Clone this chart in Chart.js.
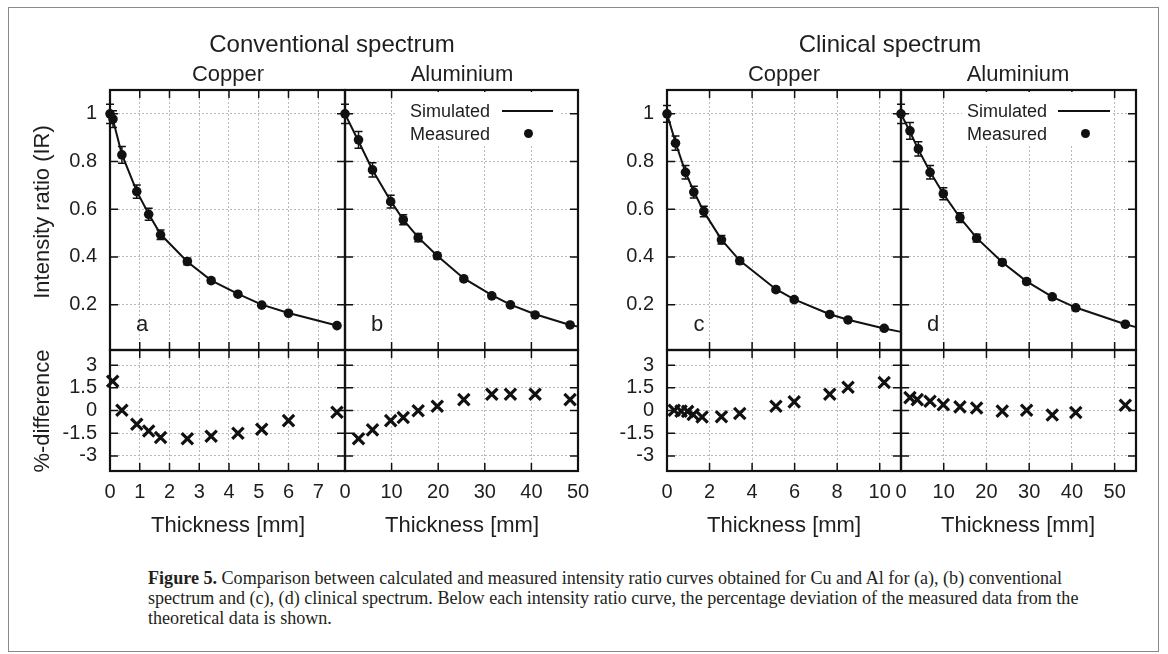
<!DOCTYPE html>
<html><head><meta charset="utf-8">
<script src="https://cdn.jsdelivr.net/npm/chart.js@4.4.1/dist/chart.umd.min.js"></script>
<style>
body{margin:0;width:1168px;height:654px;position:relative;background:#fff;overflow:hidden;font-family:"Liberation Sans",Arial,sans-serif;color:#1e1e1e}
#frame{position:absolute;left:8px;top:7px;width:1151px;height:645px;border:1px solid #8a8a8a;box-sizing:border-box}
.t{position:absolute;white-space:nowrap;line-height:1}
canvas{position:absolute}
.cap{position:absolute;left:148px;white-space:nowrap;font-family:"Liberation Serif","Times New Roman",serif;font-size:18.1px;line-height:1;color:#231f20}
.leg{position:absolute;background:#fff}
</style></head>
<body>
<div id="frame"></div>
<script>
// ---------------- data ----------------
// Conventional spectrum, copper
const cuConvX    = [0, 0.1, 0.4, 0.9, 1.3, 1.7, 2.6, 3.4, 4.3, 5.1, 6.0, 7.63];
const cuConvIR   = [1.0, 0.978, 0.828, 0.674, 0.579, 0.493, 0.381, 0.301, 0.244, 0.198, 0.164, 0.112];
const cuConvErr  = [0.04, 0.035, 0.035, 0.028, 0.025, 0.02, 0.014, 0.01, 0.008, 0.007, 0.006, 0.005];
const cuConvSimX = [0, 0.1, 0.4, 0.9, 1.3, 1.7, 2.6, 3.4, 4.3, 5.1, 6.0, 7.63];
const cuConvSim  = [1.0, 0.975, 0.83, 0.675, 0.58, 0.495, 0.38, 0.302, 0.245, 0.2, 0.165, 0.113];
const cuConvDiffX = [0.09, 0.4, 0.9, 1.3, 1.7, 2.6, 3.4, 4.3, 5.1, 6.0, 7.63];
const cuConvDiff  = [1.93, 0.02, -0.91, -1.35, -1.78, -1.87, -1.70, -1.50, -1.24, -0.67, -0.11];
// Conventional spectrum, aluminium
const alConvX    = [0, 2.9, 5.9, 9.8, 12.5, 15.7, 19.8, 25.5, 31.5, 35.5, 40.8, 48.3];
const alConvIR   = [1.0, 0.891, 0.765, 0.632, 0.556, 0.481, 0.405, 0.308, 0.237, 0.199, 0.157, 0.115];
const alConvErr  = [0.04, 0.035, 0.03, 0.027, 0.021, 0.017, 0.012, 0.01, 0.008, 0.007, 0.006, 0.005];
const alConvSimX = [0, 2.9, 5.9, 9.8, 12.5, 15.7, 19.8, 25.5, 31.5, 35.5, 40.8, 48.3, 50];
const alConvSim  = [1.0, 0.885, 0.765, 0.635, 0.556, 0.482, 0.405, 0.31, 0.24, 0.2, 0.16, 0.115, 0.108];
const alConvDiffX = [2.9, 5.9, 9.8, 12.5, 15.7, 19.8, 25.5, 31.5, 35.5, 40.8, 48.3];
const alConvDiff  = [-1.87, -1.28, -0.67, -0.46, -0.02, 0.28, 0.72, 1.07, 1.07, 1.07, 0.72];
// Clinical spectrum, copper
const cuClinX    = [0, 0.4, 0.87, 1.26, 1.73, 2.56, 3.42, 5.12, 5.98, 7.65, 8.51, 10.21];
const cuClinIR   = [1.0, 0.877, 0.755, 0.672, 0.591, 0.472, 0.384, 0.263, 0.221, 0.159, 0.136, 0.101];
const cuClinErr  = [0.035, 0.03, 0.028, 0.025, 0.022, 0.018, 0.012, 0.01, 0.008, 0.007, 0.006, 0.005];
const cuClinSimX = [0, 0.4, 0.87, 1.26, 1.73, 2.56, 3.42, 5.12, 5.98, 7.65, 8.51, 10.21, 11];
const cuClinSim  = [1.0, 0.88, 0.755, 0.675, 0.59, 0.473, 0.385, 0.265, 0.222, 0.16, 0.137, 0.1, 0.086];
const cuClinDiffX = [0.34, 0.66, 0.97, 1.23, 1.65, 2.56, 3.42, 5.12, 5.98, 7.65, 8.51, 10.21];
const cuClinDiff  = [0.02, -0.04, -0.06, -0.26, -0.43, -0.41, -0.2, 0.28, 0.57, 1.07, 1.54, 1.85];
// Clinical spectrum, aluminium
const alClinX    = [0, 2.1, 4.06, 6.8, 9.9, 13.8, 17.7, 23.7, 29.4, 35.4, 40.9, 52.5];
const alClinIR   = [1.0, 0.929, 0.853, 0.755, 0.665, 0.565, 0.479, 0.377, 0.297, 0.233, 0.187, 0.118];
const alClinErr  = [0.04, 0.035, 0.03, 0.028, 0.025, 0.02, 0.016, 0.012, 0.01, 0.008, 0.007, 0.006];
const alClinSimX = [0, 2.1, 4.06, 6.8, 9.9, 13.8, 17.7, 23.7, 29.4, 35.4, 40.9, 52.5, 55];
const alClinSim  = [1.0, 0.925, 0.85, 0.757, 0.665, 0.565, 0.48, 0.378, 0.298, 0.233, 0.188, 0.118, 0.106];
const alClinDiffX = [2.1, 3.8, 6.8, 9.9, 13.8, 17.7, 23.7, 29.4, 35.4, 40.9, 52.5];
const alClinDiff  = [0.85, 0.72, 0.61, 0.39, 0.24, 0.17, -0.04, 0.02, -0.30, -0.13, 0.35];

// tick labels
const irTicks     = [0.2, 0.4, 0.6, 0.8, 1];
const diffTicks   = [-3, -1.5, 0, 1.5, 3];
const cuConvTicks = [0, 1, 2, 3, 4, 5, 6, 7];
const alConvTicks = [0, 10, 20, 30, 40, 50];
const cuClinTicks = [0, 2, 4, 6, 8, 10];
const alClinTicks = [0, 10, 20, 30, 40, 50];

// ---------------- helpers ----------------
const FONT = '"Liberation Sans", Arial, sans-serif';
const pts = (xs, ys) => xs.map((x, i) => ({x, y: ys[i]}));

const framePlugin = {
  id: 'frame',
  beforeDatasetsDraw(chart) {
    const {ctx, chartArea: a, scales: {x, y}} = chart;
    ctx.save();
    ctx.strokeStyle = '#111';
    ctx.lineWidth = 1.5;
    const L = 8;
    ctx.beginPath();
    x.ticks.forEach(t => {
      const p = x.getPixelForValue(t.value);
      ctx.moveTo(p, a.top); ctx.lineTo(p, a.top + L);
      ctx.moveTo(p, a.bottom); ctx.lineTo(p, a.bottom - L);
    });
    y.ticks.forEach(t => {
      const p = y.getPixelForValue(t.value);
      ctx.moveTo(a.left, p); ctx.lineTo(a.left + L, p);
      ctx.moveTo(a.right, p); ctx.lineTo(a.right - L, p);
    });
    ctx.stroke();
    ctx.lineWidth = 2.2;
    ctx.strokeRect(a.left, a.top, a.right - a.left, a.bottom - a.top);
    ctx.restore();
  }
};

const errPlugin = {
  id: 'errbars',
  beforeDatasetsDraw(chart) {
    const {ctx, scales: {x, y}} = chart;
    ctx.save();
    ctx.strokeStyle = '#111';
    ctx.lineWidth = 1.5;
    chart.data.datasets.forEach(ds => {
      if (!ds.errors) return;
      ds.data.forEach((p, i) => {
        const e = ds.errors[i];
        const px = x.getPixelForValue(p.x);
        const y1 = y.getPixelForValue(p.y + e), y2 = y.getPixelForValue(p.y - e);
        ctx.beginPath();
        ctx.moveTo(px, y1); ctx.lineTo(px, y2);
        ctx.moveTo(px - 4, y1); ctx.lineTo(px + 4, y1);
        ctx.moveTo(px - 4, y2); ctx.lineTo(px + 4, y2);
        ctx.stroke();
      });
    });
    ctx.restore();
  }
};

function panel(o) {
  const Lm = o.showY ? 95 : 40, Rm = 40, Tm = 40, Bm = o.showX ? 50 : 40;
  const c = document.createElement('canvas');
  const W = o.w + Lm + Rm, H = o.h + Tm + Bm;
  c.width = W; c.height = H;
  c.style.left = (o.left - Lm) + 'px'; c.style.top = (o.top - Tm) + 'px';
  c.style.width = W + 'px'; c.style.height = H + 'px';
  document.body.appendChild(c);
  const grid = {color: '#b9b9b9', lineWidth: 1, drawTicks: false};
  new Chart(c, {
    type: 'scatter',
    data: {datasets: o.datasets},
    options: {
      responsive: false, animation: false, devicePixelRatio: 1,
      layout: {padding: {top: Tm, right: Rm, left: 0, bottom: 0}},
      plugins: {legend: {display: false}, tooltip: {enabled: false}},
      scales: {
        x: {
          type: 'linear', min: o.xMin, max: o.xMax,
          afterBuildTicks: s => { s.ticks = o.xTicks.map(v => ({value: v})); },
          afterFit: s => { s.height = Bm; },
          grid, border: {display: false, dash: [2, 2]},
          ticks: {display: !!o.showX, padding: 9, color: '#1e1e1e', font: {size: 20, family: FONT},
                  maxRotation: 0, autoSkip: false, callback: v => String(v)}
        },
        y: {
          type: 'linear', min: o.yMin, max: o.yMax,
          afterBuildTicks: s => { s.ticks = o.yTicks.map(v => ({value: v})); },
          afterFit: s => { s.width = Lm; },
          grid, border: {display: false, dash: [2, 2]},
          ticks: {display: !!o.showY, padding: 13, color: '#1e1e1e', font: {size: 20, family: FONT},
                  autoSkip: false, callback: v => String(v)}
        }
      }
    },
    plugins: [framePlugin, errPlugin]
  });
}

function topSets(simX, sim, mx, my, err) {
  return [
    {data: pts(simX, sim), showLine: true, borderColor: '#111', borderWidth: 2, pointRadius: 0, clip: false, order: 2},
    {data: pts(mx, my), errors: err, pointRadius: 4.8, pointBackgroundColor: '#111', pointBorderColor: '#111',
     pointBorderWidth: 0, clip: false, order: 1}
  ];
}
function diffSets(dx, dy) {
  return [{data: pts(dx, dy), pointStyle: 'crossRot', pointRadius: 8, pointBorderColor: '#111',
           pointBorderWidth: 3.2, clip: false}];
}

const TOP = 90, MID = 350, BOT = 471;
const P = {a: [110, 345], b: [345, 578], c: [667, 901], d: [901, 1136]};
const cfg = [
  ['a', cuConvTicks, 7.9, topSets(cuConvSimX, cuConvSim, cuConvX, cuConvIR, cuConvErr), diffSets(cuConvDiffX, cuConvDiff), true],
  ['b', alConvTicks, 50, topSets(alConvSimX, alConvSim, alConvX, alConvIR, alConvErr), diffSets(alConvDiffX, alConvDiff), false],
  ['c', cuClinTicks, 11, topSets(cuClinSimX, cuClinSim, cuClinX, cuClinIR, cuClinErr), diffSets(cuClinDiffX, cuClinDiff), true],
  ['d', alClinTicks, 55, topSets(alClinSimX, alClinSim, alClinX, alClinIR, alClinErr), diffSets(alClinDiffX, alClinDiff), false]
];
cfg.forEach(([k, xt, xmax, tds, bds, showY]) => {
  const [l, r] = P[k];
  panel({left: l, top: TOP, w: r - l, h: MID - TOP, xMin: 0, xMax: xmax, xTicks: xt,
         yMin: 0.01, yMax: 1.1, yTicks: irTicks, showY, showX: false, datasets: tds});
  panel({left: l, top: MID, w: r - l, h: BOT - MID, xMin: 0, xMax: xmax, xTicks: xt,
         yMin: -4, yMax: 4, yTicks: diffTicks, showY, showX: true, datasets: bds});
});

// ---------------- text ----------------
function txt(s, cx, baseline, size, extra) {
  const d = document.createElement('div');
  d.className = 't';
  d.textContent = s;
  d.style.fontSize = size + 'px';
  d.style.left = cx + 'px';
  d.style.top = (baseline - 0.8465 * size) + 'px';
  d.style.transform = 'translateX(-50%)';
  if (extra) Object.assign(d.style, extra);
  document.body.appendChild(d);
  return d;
}
txt('Conventional spectrum', 332, 52, 24);
txt('Clinical spectrum', 890, 52, 24);
txt('Copper', 228, 82, 22); txt('Aluminium', 462, 82, 22);
txt('Copper', 784, 82, 22); txt('Aluminium', 1018, 82, 22);
['a', 'b', 'c', 'd'].forEach((k, i) => txt(k, [142, 377, 699, 933][i], 332, 22));
[228, 462, 784, 1018].forEach(x => txt('Thickness [mm]', x, 533, 22));

function vtxt(s, cx, cy, size) {
  const d = document.createElement('div');
  d.className = 't';
  d.textContent = s;
  d.style.fontSize = size + 'px';
  d.style.left = cx + 'px'; d.style.top = cy + 'px';
  d.style.transform = 'translate(-50%,-50%) rotate(-90deg)';
  document.body.appendChild(d);
}
vtxt('Intensity ratio (IR)', 42, 212, 22);
vtxt('%-difference', 42, 411, 22);

// legends (inside panels b and d)
function legend(boxL, boxR, textR, lineL, lineR, dotX) {
  const bg = document.createElement('div');
  bg.className = 'leg';
  Object.assign(bg.style, {left: boxL + 'px', top: '92px', width: (boxR - boxL) + 'px', height: '53px'});
  document.body.appendChild(bg);
  const mk = (s, base) => {
    const d = document.createElement('div');
    d.className = 't'; d.textContent = s; d.style.fontSize = '18px';
    d.style.left = (textR - 120) + 'px'; d.style.width = '120px'; d.style.textAlign = 'right';
    d.style.top = (base - 0.8465 * 18) + 'px';
    document.body.appendChild(d);
  };
  mk('Simulated', 117); mk('Measured', 140);
  const ln = document.createElement('div');
  Object.assign(ln.style, {position: 'absolute', left: lineL + 'px', top: '110px', width: (lineR - lineL) + 'px', height: '2px', background: '#111'});
  document.body.appendChild(ln);
  const dt = document.createElement('div');
  Object.assign(dt.style, {position: 'absolute', left: (dotX - 4.5) + 'px', top: '128.5px', width: '9px', height: '9px', borderRadius: '50%', background: '#111'});
  document.body.appendChild(dt);
}
legend(396, 560, 490, 502, 553, 528);
legend(962, 1113, 1047, 1058, 1110, 1085);

// caption
function capLine(html, baseline) {
  const d = document.createElement('div');
  d.className = 'cap';
  d.innerHTML = html;
  d.style.top = (baseline - 0.8375 * 18.1) + 'px';
  document.body.appendChild(d);
}
capLine('<b>Figure 5.</b> Comparison between calculated and measured intensity ratio curves obtained for Cu and Al for (a), (b) conventional', 584);
capLine('spectrum and (c), (d) clinical spectrum. Below each intensity ratio curve, the percentage deviation of the measured data from the', 604);
capLine('theoretical data is shown.', 624);
</script>
</body></html>
